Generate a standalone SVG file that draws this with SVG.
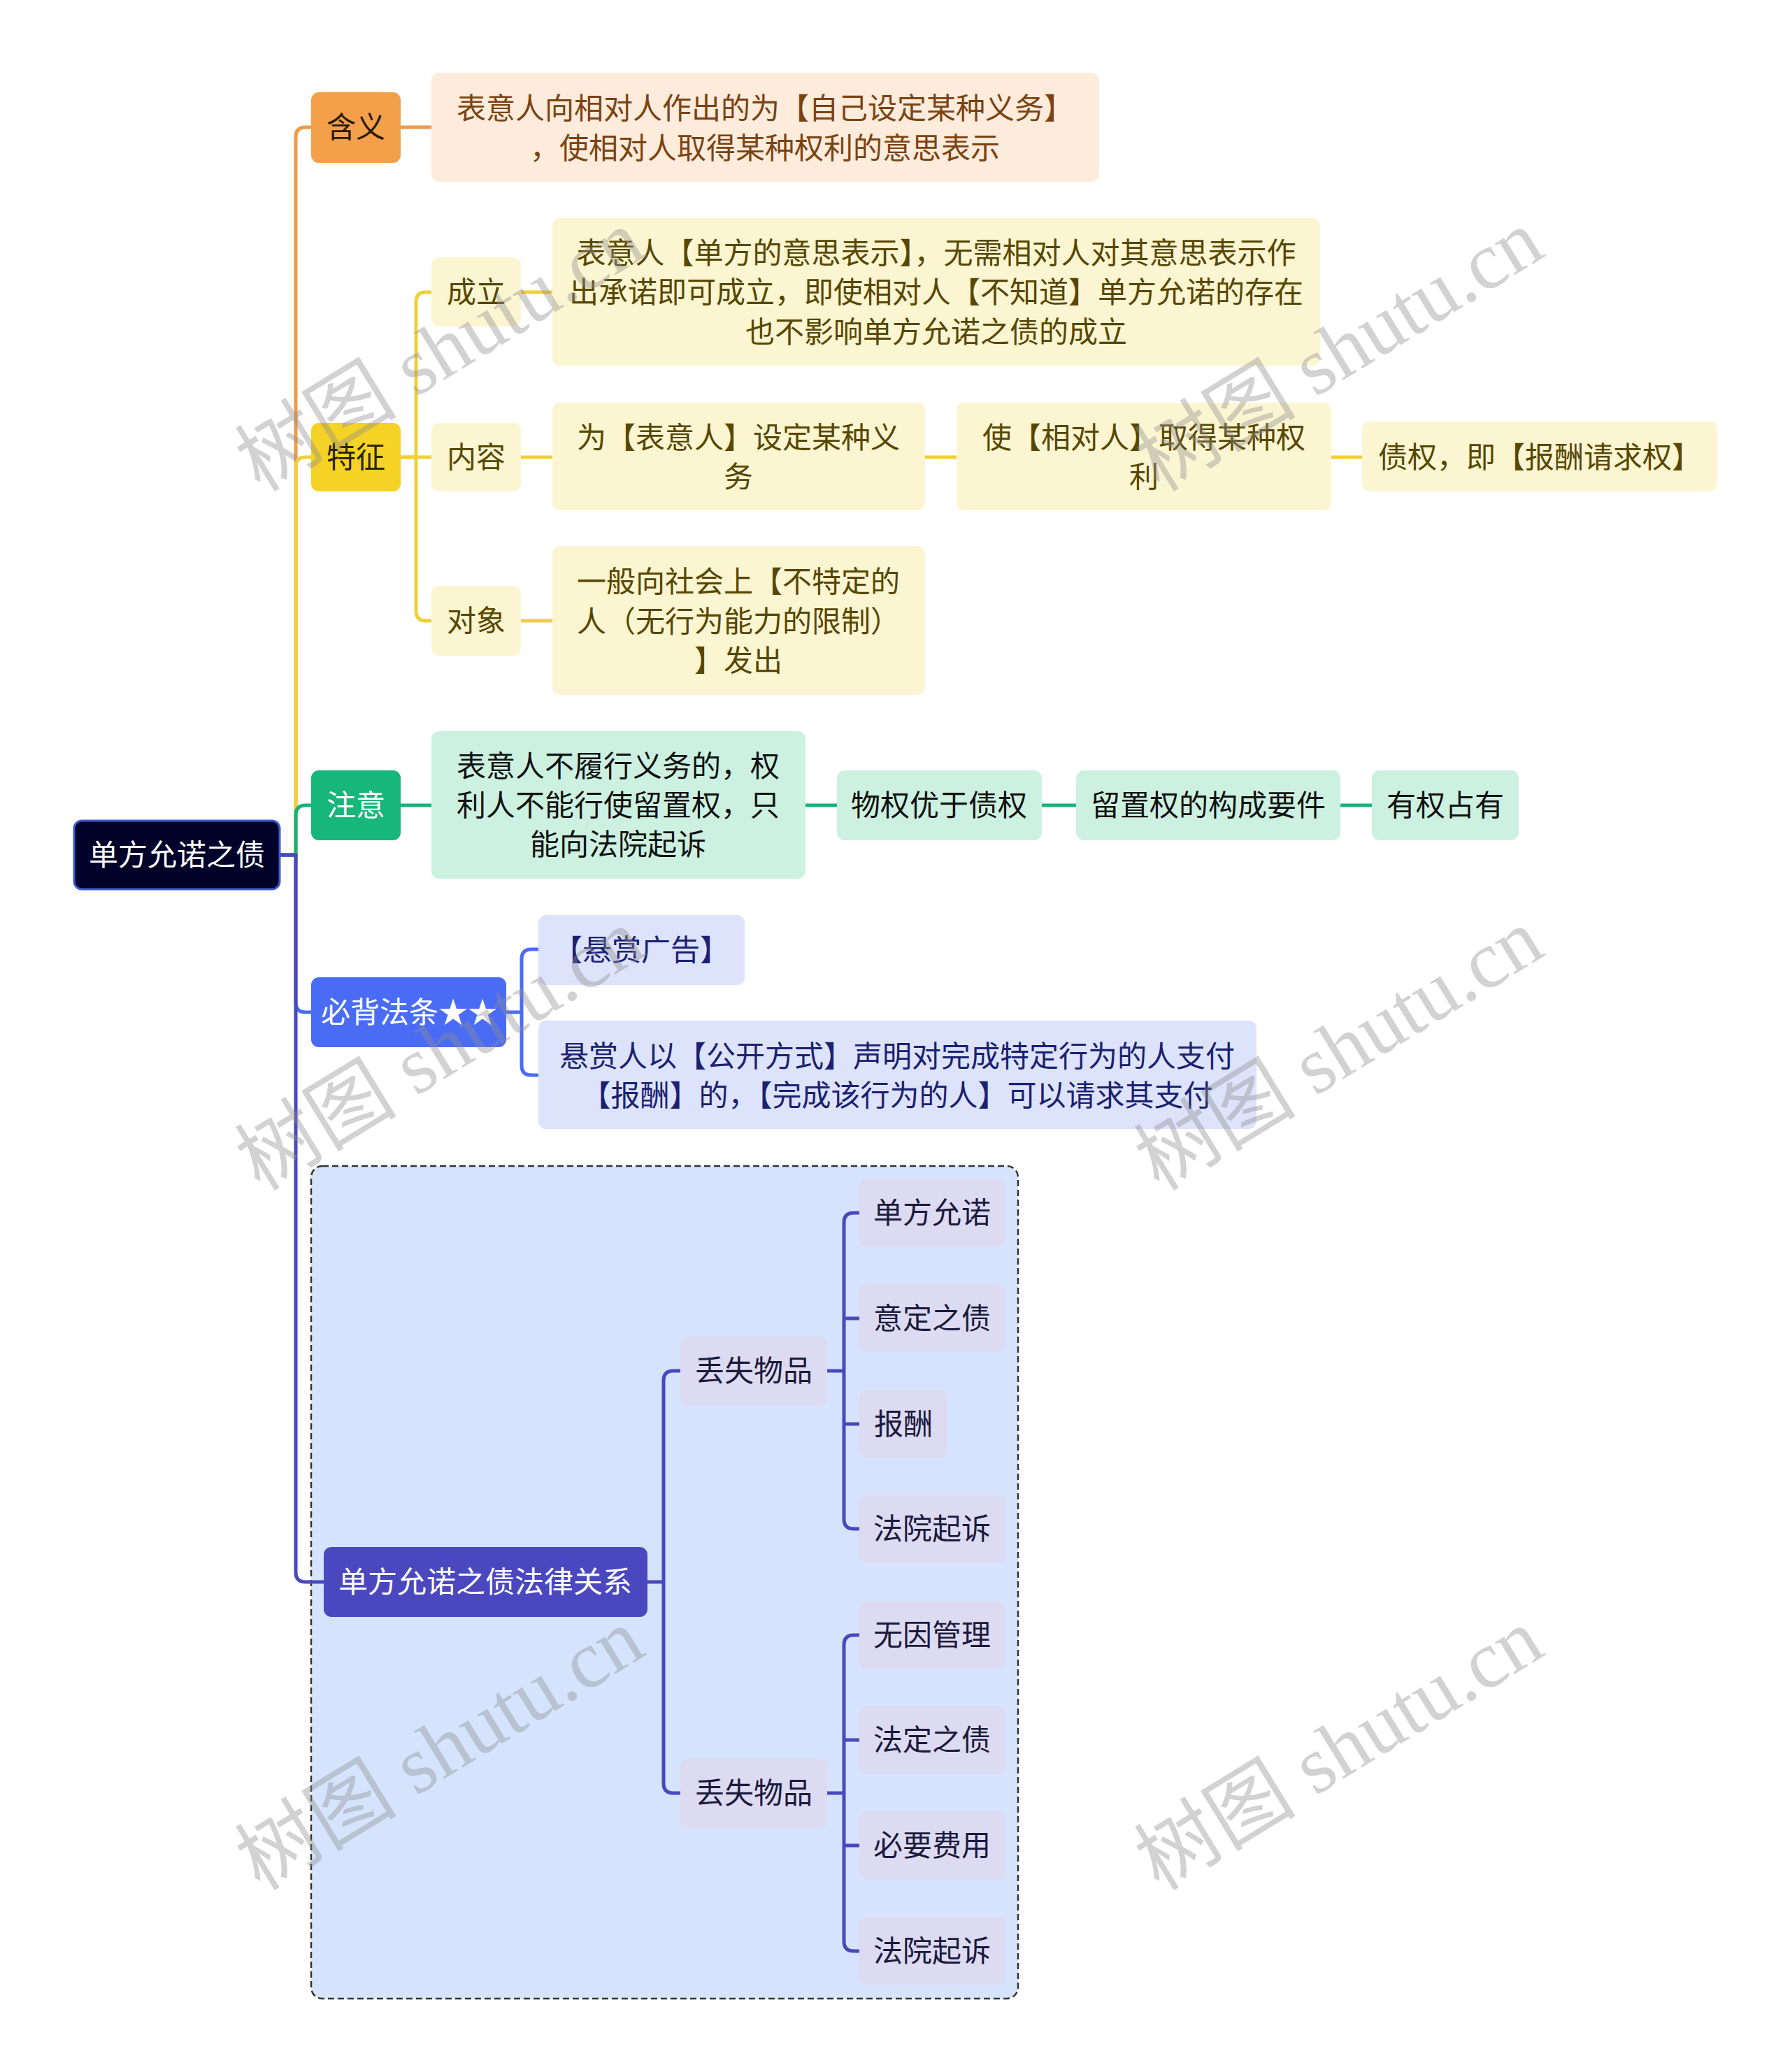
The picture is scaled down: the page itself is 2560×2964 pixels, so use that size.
<svg xmlns="http://www.w3.org/2000/svg" width="2560" height="2964" viewBox="0 0 2560 2964">
<style>
text{font-family:"Noto Sans CJK SC","Noto Sans",sans-serif;font-size:42px;text-anchor:middle}
.c{fill:none;stroke-width:5;stroke-linecap:butt;stroke-linejoin:round}
.or{stroke:#f09a45}.ye{stroke:#f0d03a}.gr{stroke:#15b47a}.bl{stroke:#4a6cf2}.in{stroke:#4b48bd}
.wm{font-family:"Liberation Serif","Noto Sans CJK SC",serif;font-size:116px;text-anchor:start;fill:#8e8e8e;fill-opacity:0.4}
</style>
<rect width="2560" height="2964" fill="#ffffff"/>
<g id="group-box">
<rect x="445" y="1668" width="1011" height="1191" rx="16" fill="#d5e4fc" stroke="#333" stroke-width="2.5" stroke-dasharray="9 5"/>
</g>
<g id="connectors">
<path class="c or" d="M400 1223 H423 V196 Q423 182 437 182 H445"/>
<path class="c or" d="M573 182 H617"/>
<path class="c ye" d="M400 1223 H423 V668 Q423 654 437 654 H445"/>
<path class="c ye" d="M573 654 H595 V432 Q595 418 609 418 H617"/>
<path class="c ye" d="M573 654 H617"/>
<path class="c ye" d="M595 654 V874 Q595 888 609 888 H617"/>
<path class="c ye" d="M745 418 H790"/>
<path class="c ye" d="M745 654 H790"/>
<path class="c ye" d="M745 888 H790"/>
<path class="c ye" d="M1323 654 H1368"/>
<path class="c ye" d="M1904 654 H1948"/>
<path class="c gr" d="M400 1223 H423 V1166 Q423 1152 437 1152 H445"/>
<path class="c gr" d="M573 1152 H617"/>
<path class="c gr" d="M1152 1152 H1197"/>
<path class="c gr" d="M1490 1152 H1539"/>
<path class="c gr" d="M1917 1152 H1962"/>
<path class="c bl" d="M400 1223 H423 V1434 Q423 1448 437 1448 H445"/>
<path class="c bl" d="M724 1448 H746"/>
<path class="c bl" d="M770 1358 H760 Q746 1358 746 1372 V1524 Q746 1538 760 1538 H770"/>
<path class="c in" d="M400 1223 H423 V2249 Q423 2263 437 2263 H463"/>
<path class="c in" d="M926 2263 H949"/>
<path class="c in" d="M973 1961 H963 Q949 1961 949 1975 V2551 Q949 2565 963 2565 H973"/>
<path class="c in" d="M1183 1961 H1207"/>
<path class="c in" d="M1229 1735 H1221 Q1207 1735 1207 1749 V2173 Q1207 2187 1221 2187 H1229"/>
<path class="c in" d="M1207 1886 H1229"/>
<path class="c in" d="M1207 2037 H1229"/>
<path class="c in" d="M1183 2565 H1207"/>
<path class="c in" d="M1229 2339 H1221 Q1207 2339 1207 2353 V2777 Q1207 2791 1221 2791 H1229"/>
<path class="c in" d="M1207 2489 H1229"/>
<path class="c in" d="M1207 2640 H1229"/>
</g>
<g id="root">
<rect x="106" y="1174" width="294" height="98" rx="11" fill="#000229" stroke="#3d5bd2" stroke-width="3"/>
<text x="253" y="1238" fill="#ffffff">单方允诺之债</text>
</g>
<g id="n-hanyi">
<rect x="445" y="132" width="128" height="101" rx="11" fill="#f4a04b"/>
<text x="509" y="197" fill="#2a1a08">含义</text>
</g>
<g id="n-hanyi-text">
<rect x="617" y="104" width="955" height="156" rx="11" fill="#fdebdc"/>
<text x="1094" y="170" fill="#7b4310">表意人向相对人作出的为【自己设定某种义务】</text>
<text x="1094" y="227" fill="#7b4310">，使相对人取得某种权利的意思表示</text>
</g>
<g id="n-tezheng">
<rect x="445" y="605" width="128" height="98" rx="11" fill="#f5d226"/>
<text x="509" y="669" fill="#2a2400">特征</text>
</g>
<g id="n-chengli">
<rect x="617" y="368" width="128" height="99" rx="11" fill="#fcf5d2"/>
<text x="681" y="433" fill="#574700">成立</text>
</g>
<g id="n-chengli-text">
<rect x="790" y="312" width="1098" height="211" rx="11" fill="#fcf5d2"/>
<text x="1339" y="377" fill="#574700">表意人【单方的意思表示】，无需相对人对其意思表示作</text>
<text x="1339" y="433" fill="#574700">出承诺即可成立，即使相对人【不知道】单方允诺的存在</text>
<text x="1339" y="490" fill="#574700">也不影响单方允诺之债的成立</text>
</g>
<g id="n-neirong">
<rect x="617" y="605" width="128" height="98" rx="11" fill="#fcf5d2"/>
<text x="681" y="669" fill="#574700">内容</text>
</g>
<g id="n-wei">
<rect x="790" y="576" width="533" height="154" rx="11" fill="#fcf5d2"/>
<text x="1056" y="641" fill="#574700">为【表意人】设定某种义</text>
<text x="1056" y="697" fill="#574700">务</text>
</g>
<g id="n-shi">
<rect x="1368" y="576" width="536" height="154" rx="11" fill="#fcf5d2"/>
<text x="1636" y="641" fill="#574700">使【相对人】取得某种权</text>
<text x="1636" y="697" fill="#574700">利</text>
</g>
<g id="n-zhaiquan">
<rect x="1948" y="603" width="508" height="100" rx="11" fill="#fcf5d2"/>
<text x="2202" y="669" fill="#574700">债权，即【报酬请求权】</text>
</g>
<g id="n-duixiang">
<rect x="617" y="838" width="128" height="100" rx="11" fill="#fcf5d2"/>
<text x="681" y="903" fill="#574700">对象</text>
</g>
<g id="n-duixiang-text">
<rect x="790" y="781" width="533" height="213" rx="11" fill="#fcf5d2"/>
<text x="1056" y="847" fill="#574700">一般向社会上【不特定的</text>
<text x="1056" y="904" fill="#574700">人（无行为能力的限制）</text>
<text x="1056" y="960" fill="#574700">】发出</text>
</g>
<g id="n-zhuyi">
<rect x="445" y="1102" width="128" height="100" rx="11" fill="#17b67a"/>
<text x="509" y="1167" fill="#ffffff">注意</text>
</g>
<g id="n-zhuyi-text">
<rect x="617" y="1046" width="535" height="211" rx="11" fill="#cdf1e1"/>
<text x="884" y="1111" fill="#111111">表意人不履行义务的，权</text>
<text x="884" y="1167" fill="#111111">利人不能行使留置权，只</text>
<text x="884" y="1223" fill="#111111">能向法院起诉</text>
</g>
<g id="n-wuquan">
<rect x="1197" y="1102" width="293" height="100" rx="11" fill="#cdf1e1"/>
<text x="1343" y="1167" fill="#111111">物权优于债权</text>
</g>
<g id="n-liuzhi">
<rect x="1539" y="1102" width="378" height="100" rx="11" fill="#cdf1e1"/>
<text x="1728" y="1167" fill="#111111">留置权的构成要件</text>
</g>
<g id="n-youquan">
<rect x="1962" y="1102" width="210" height="100" rx="11" fill="#cdf1e1"/>
<text x="2067" y="1167" fill="#111111">有权占有</text>
</g>
<g id="n-bibei">
<rect x="445" y="1398" width="279" height="100" rx="11" fill="#4a6cf5"/>
<text x="585" y="1463" fill="#ffffff">必背法条★★</text>
</g>
<g id="n-xuanshang">
<rect x="770" y="1309" width="295" height="100" rx="11" fill="#dce3fb"/>
<text x="917" y="1374" fill="#1b2170">【悬赏广告】</text>
</g>
<g id="n-xuanshang-text">
<rect x="770" y="1460" width="1027" height="155" rx="11" fill="#dce3fb"/>
<text x="1283" y="1526" fill="#1b2170">悬赏人以【公开方式】声明对完成特定行为的人支付</text>
<text x="1283" y="1582" fill="#1b2170">【报酬】的，【完成该行为的人】可以请求其支付</text>
</g>
<g id="n-falv">
<rect x="463" y="2213" width="463" height="100" rx="11" fill="#4b48bf"/>
<text x="694" y="2278" fill="#ffffff">单方允诺之债法律关系</text>
</g>
<g id="n-diushi1">
<rect x="973" y="1912" width="210" height="99" rx="11" fill="#dddbf2"/>
<text x="1078" y="1976" fill="#1c1a3c">丢失物品</text>
</g>
<g id="n-diushi2">
<rect x="973" y="2516" width="210" height="99" rx="11" fill="#dddbf2"/>
<text x="1078" y="2580" fill="#1c1a3c">丢失物品</text>
</g>
<g id="n-leaf1"><rect x="1229" y="1686" width="209" height="98" rx="11" fill="#dddbf2"/><text x="1333" y="1750" fill="#1c1a3c">单方允诺</text></g>
<g id="n-leaf2"><rect x="1229" y="1837" width="209" height="98" rx="11" fill="#dddbf2"/><text x="1333" y="1901" fill="#1c1a3c">意定之债</text></g>
<g id="n-leaf3"><rect x="1229" y="1988" width="126" height="98" rx="11" fill="#dddbf2"/><text x="1292" y="2052" fill="#1c1a3c">报酬</text></g>
<g id="n-leaf4"><rect x="1229" y="2138" width="209" height="98" rx="11" fill="#dddbf2"/><text x="1333" y="2202" fill="#1c1a3c">法院起诉</text></g>
<g id="n-leaf5"><rect x="1229" y="2290" width="209" height="98" rx="11" fill="#dddbf2"/><text x="1333" y="2354" fill="#1c1a3c">无因管理</text></g>
<g id="n-leaf6"><rect x="1229" y="2440" width="209" height="98" rx="11" fill="#dddbf2"/><text x="1333" y="2504" fill="#1c1a3c">法定之债</text></g>
<g id="n-leaf7"><rect x="1229" y="2591" width="209" height="98" rx="11" fill="#dddbf2"/><text x="1333" y="2655" fill="#1c1a3c">必要费用</text></g>
<g id="n-leaf8"><rect x="1229" y="2742" width="209" height="98" rx="11" fill="#dddbf2"/><text x="1333" y="2806" fill="#1c1a3c">法院起诉</text></g>
<g id="watermarks">
<text class="wm" transform="translate(372,705) rotate(-31.5)">树图 shutu.cn</text>
<text class="wm" transform="translate(1658,705) rotate(-31.5)">树图 shutu.cn</text>
<text class="wm" transform="translate(372,1705) rotate(-31.5)">树图 shutu.cn</text>
<text class="wm" transform="translate(1658,1705) rotate(-31.5)">树图 shutu.cn</text>
<text class="wm" transform="translate(372,2706) rotate(-31.5)">树图 shutu.cn</text>
<text class="wm" transform="translate(1658,2706) rotate(-31.5)">树图 shutu.cn</text>
</g>
</svg>
